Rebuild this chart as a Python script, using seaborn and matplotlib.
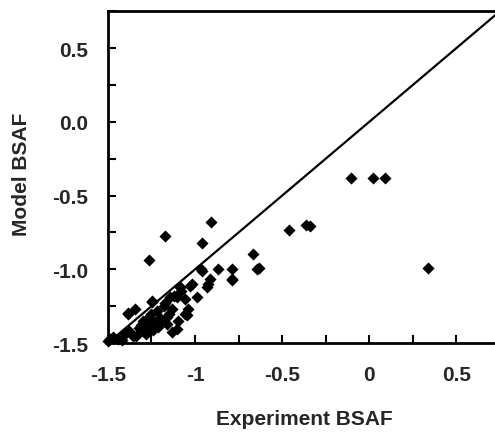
import matplotlib
matplotlib.use("Agg")
import matplotlib.pyplot as plt
import seaborn as sns
import pandas as pd
import numpy as np
from matplotlib.ticker import MultipleLocator, FixedLocator

experiment = [
    -0.103, 0.023, 0.090, -0.458, -0.366, -0.339, 0.335,
    -0.908, -1.172, -0.962, -1.264, -0.668, -0.632, -0.787, -0.787, -0.870, -0.966,
    -0.786, -0.642, -0.914, -0.924, -0.933, -0.962, -1.029, -1.086, -0.991, -1.039,
    -1.057, -1.096, -1.106, -1.383, -1.345, -1.249, -1.086, -1.106, -1.135, -1.163,
    -1.135, -1.489, -1.500, -1.249, -1.383, -1.020, -1.144, -1.048, -1.192, -1.278,
    -1.355, -1.470, -1.300, -1.320, -1.250, -1.220, -1.200, -1.180, -1.260, -1.300,
    -1.340, -1.400, -1.420, -1.280, -1.230, -1.170, -1.150, -1.210, -1.240, -1.190,
    -1.120, -1.080, -1.060, -1.160, -1.440, -1.380, -1.310, -1.270,
]
model = [
    -0.384, -0.384, -0.384, -0.736, -0.697, -0.709, -0.992,
    -0.679, -0.774, -0.822, -0.937, -0.897, -0.992, -1.001, -1.071, -1.000, -1.000,
    -1.067, -0.997, -1.065, -1.099, -1.121, -1.008, -1.110, -1.121, -1.189, -1.269,
    -1.303, -1.348, -1.405, -1.303, -1.269, -1.212, -1.121, -1.190, -1.269, -1.325,
    -1.427, -1.473, -1.485, -1.223, -1.296, -1.099, -1.190, -1.310, -1.348, -1.416,
    -1.450, -1.461, -1.350, -1.400, -1.300, -1.280, -1.330, -1.250, -1.380, -1.420,
    -1.450, -1.440, -1.480, -1.440, -1.360, -1.230, -1.300, -1.390, -1.410, -1.350,
    -1.180, -1.150, -1.200, -1.370, -1.470, -1.420, -1.380, -1.330,
]
line_x = [-1.5, 0.75]
line_y = [-1.5, 0.75]
x_ticks = [-1.5, -1.0, -0.5, 0.0, 0.5]
x_ticklabels = ["-1.5", "-1", "-0.5", "0", "0.5"]
y_ticks = [-1.5, -1.0, -0.5, 0.0, 0.5]
y_ticklabels = ["-1.5", "-1.0", "-0.5", "0.0", "0.5"]

sns.set_style("white")
plt.rcParams['font.family'] = 'Liberation Sans'
plt.rcParams['font.weight'] = 'bold'
plt.rcParams['axes.labelweight'] = 'bold'

FONT = dict(family="Liberation Sans", weight="bold", size=15)

df = pd.DataFrame({"Experiment BSAF": experiment, "Model BSAF": model})

fig = plt.figure(figsize=(4.95, 4.35), dpi=100)
ax = fig.add_axes([0.218, 0.209, 0.785, 0.763])

ax.plot(line_x, line_y, color="black", lw=1.6, zorder=2)
sns.scatterplot(data=df, x="Experiment BSAF", y="Model BSAF", marker="D", s=38,
                color="black", edgecolor="black", linewidth=0, ax=ax, zorder=3,
                clip_on=False)

ax.set_xlim(-1.5, 0.73)
ax.set_ylim(-1.5, 0.75)

ax.xaxis.set_major_locator(FixedLocator(x_ticks))
ax.yaxis.set_major_locator(FixedLocator(y_ticks))
ax.set_xticklabels(x_ticklabels, fontdict=FONT)
ax.set_yticklabels(y_ticklabels, fontdict=FONT)
ax.xaxis.set_minor_locator(MultipleLocator(0.25))
ax.yaxis.set_minor_locator(MultipleLocator(0.25))
ax.tick_params(axis="both", which="both", direction="in", length=6, width=1.5,
               color="black", bottom=True, left=True, top=False, right=False)
ax.tick_params(axis="x", which="major", pad=16)
ax.tick_params(axis="y", which="major", pad=14)

for side in ["left", "bottom", "top"]:
    ax.spines[side].set_visible(True)
    ax.spines[side].set_color("black")
    ax.spines[side].set_linewidth(2)
ax.spines["right"].set_visible(False)

ax.set_xlabel("Experiment BSAF", fontdict=FONT)
ax.set_ylabel("Model BSAF", fontdict=FONT)
ax.xaxis.set_label_coords((304 - 108) / (0.785 * 495), -(419 - 344) / (0.763 * 435), transform=ax.transAxes)
ax.yaxis.set_label_coords(-(108 - 22) / (0.785 * 495), (344 - 174) / (0.763 * 435), transform=ax.transAxes)
ax.xaxis.label.set_va("center")
ax.yaxis.label.set_va("center")
ax.grid(False)

fig.savefig("out.png", dpi=100)
